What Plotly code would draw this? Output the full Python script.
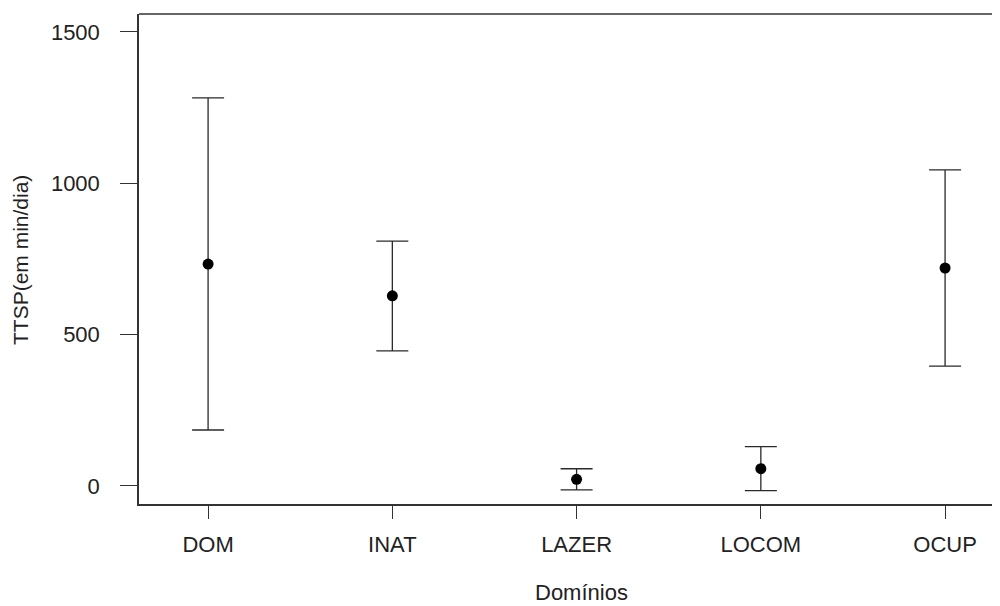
import plotly.graph_objects as go

categories = ["DOM", "INAT", "LAZER", "LOCOM", "OCUP"]
means = [733, 628, 22, 57, 720]
upper = [1282, 809, 57, 130, 1044]
lower = [185, 446, -13, -15, 396]
y_ticks = [0, 500, 1000, 1500]

xpos = list(range(1, len(categories) + 1))
err_plus = [u - m for u, m in zip(upper, means)]
err_minus = [m - l for m, l in zip(means, lower)]

FONT = "Liberation Sans, Arial, Helvetica, sans-serif"
INK = "#222222"

PLOT_W = 861
PLOT_H = 490

fig = go.Figure()
fig.add_trace(go.Scatter(
    x=xpos, y=means, mode="markers",
    marker=dict(color="black", size=11, symbol="circle"),
    error_y=dict(type="data", symmetric=False, array=err_plus, arrayminus=err_minus,
                 color="#2a2a2a", thickness=1.3, width=16),
    showlegend=False, hoverinfo="x+y",
))

fig.update_layout(
    width=992, height=598,
    margin=dict(l=131, r=0, t=6, b=102),
    paper_bgcolor="white", plot_bgcolor="white",
    font=dict(family=FONT, size=22, color=INK),
    xaxis=dict(
        range=[0.625, 0.625 + PLOT_W / 184.25],
        tickmode="array", tickvals=xpos, ticktext=categories,
        showgrid=False, zeroline=False,
        showline=True, linecolor="#333333", linewidth=1.5,
        ticks="outside", ticklen=13, tickwidth=1.3, tickcolor="#333333",
        ticklabelstandoff=7,
        tickfont=dict(size=22, color=INK, family=FONT),
    ),
    yaxis=dict(
        range=[-59.5, 1559],
        tickmode="array", tickvals=y_ticks, ticktext=[str(v) for v in y_ticks],
        showgrid=False, zeroline=False,
        showline=True, linecolor="#333333", linewidth=1.5,
        ticks="outside", ticklen=17, tickwidth=1.3, tickcolor="#333333",
        ticklabelstandoff=16,
        tickfont=dict(size=22, color=INK, family=FONT),
    ),
    shapes=[dict(type="line", xref="paper", yref="paper", x0=0, x1=1, y0=1, y1=1,
                 line=dict(color="#333333", width=1.5))],
    annotations=[
        dict(text="TTSP(em min/dia)", xref="paper", yref="paper",
             x=(20 - 139) / PLOT_W, y=(504 - 260) / PLOT_H, xanchor="center", yanchor="middle",
             textangle=-90, showarrow=False, borderpad=0,
             font=dict(size=21, color=INK, family=FONT)),
        dict(text="Domínios", xref="paper", yref="paper",
             x=(581 - 139) / PLOT_W, y=(504 - 592) / PLOT_H, xanchor="center", yanchor="middle",
             showarrow=False, borderpad=0,
             font=dict(size=22, color=INK, family=FONT)),
    ],
)

fig.write_html("out.html")
